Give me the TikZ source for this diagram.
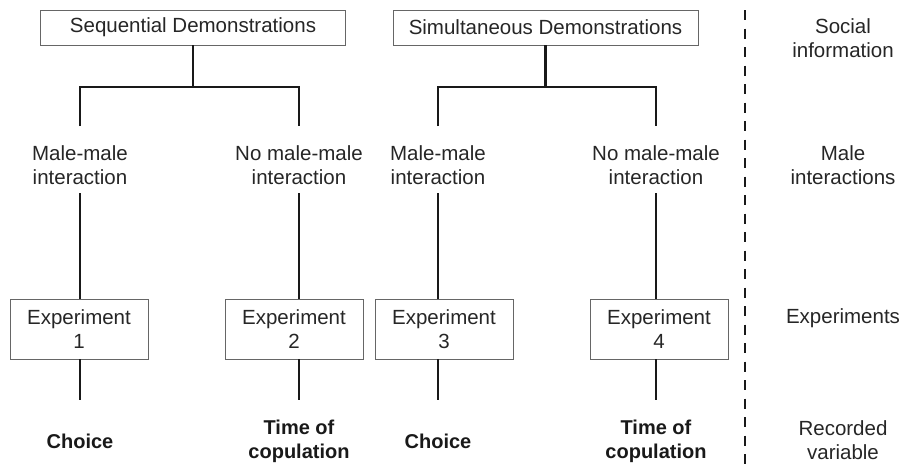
\documentclass[tikz,border=0pt]{standalone}
\usepackage{fontspec}
\setmainfont{Liberation Sans}
\usepackage{tikz}
\usetikzlibrary{positioning}

\begin{document}
\begin{tikzpicture}[
    x=1pt,
    y=-1pt,
    font=\fontsize{20.5}{24}\selectfont,
    demo/.style={draw=black!60,line width=0.9pt,minimum width=305pt,minimum height=35pt,inner sep=0pt,text=black!85},
    experiment/.style={draw=black!60,line width=0.9pt,minimum width=138pt,minimum height=60pt,inner sep=0pt,align=center,text=black!85},
    male/.style={align=center,text=black!85},
    record/.style={align=center,font=\fontsize{20}{24}\selectfont\bfseries,text=black!90},
    rowlabel/.style={align=center,text=black!85},
    branch/.style={draw=black!90,line width=2.6pt},
    divider/.style={draw=black!90,line width=2.6pt,dash pattern=on 10pt off 8.5pt}
  ]
    \useasboundingbox (0,0) rectangle (902,467);

    \node[demo] (seqdemo) at (193,27.5) {Sequential Demonstrations};
    \node[demo] (simdemo) at (545.5,27.5) {Simultaneous Demonstrations};

    \coordinate (forkrow) at (0,87);
    \coordinate (forkend) at (0,126);
    \coordinate (labelrow) at (0,193);
    \coordinate (recordrow) at (0,400);

    \foreach \i/\x/\bx/\lbl/\rec in {1/80/79/{Male-male}/{Choice},
                                     2/299/294/{No male-male}/{Time of\\copulation},
                                     3/438/444/{Male-male}/{Choice},
                                     4/656/659/{No male-male}/{Time of\\copulation}} {
      \node[male] (inter\i) at (\x,165) {\lbl\\interaction};
      \node[experiment] (exp\i) at (\bx,329) {Experiment\\\i};
      \node[record] (rec\i) at (\x,441) {\rec};
      \draw[branch] (inter\i |- labelrow) -- (inter\i |- exp\i.north);
      \draw[branch] (inter\i |- exp\i.south) -- (inter\i |- recordrow);
    }

    \draw[branch] (seqdemo.south) -- (seqdemo.south |- forkrow);
    \draw[branch] (inter1 |- forkend) |- (seqdemo.south |- forkrow) -| (inter2 |- forkend);
    \draw[branch] (simdemo.south) -- (simdemo.south |- forkrow);
    \draw[branch] (inter3 |- forkend) |- (simdemo.south |- forkrow) -| (inter4 |- forkend);

    \coordinate (divtop) at (745,10);
    \coordinate (divbottom) at (745,467);
    \draw[divider] (divtop) -- (divbottom);

    \node[rowlabel] (socialrow) at (843,38.5) {Social\\information};
    \node[rowlabel] (malerow) at (843,165) {Male\\interactions};
    \node[rowlabel] (exprow) at (843,318) {Experiments};
    \node[rowlabel] (recrow) at (843,440.5) {Recorded\\variable};
  \end{tikzpicture}
\end{document}
